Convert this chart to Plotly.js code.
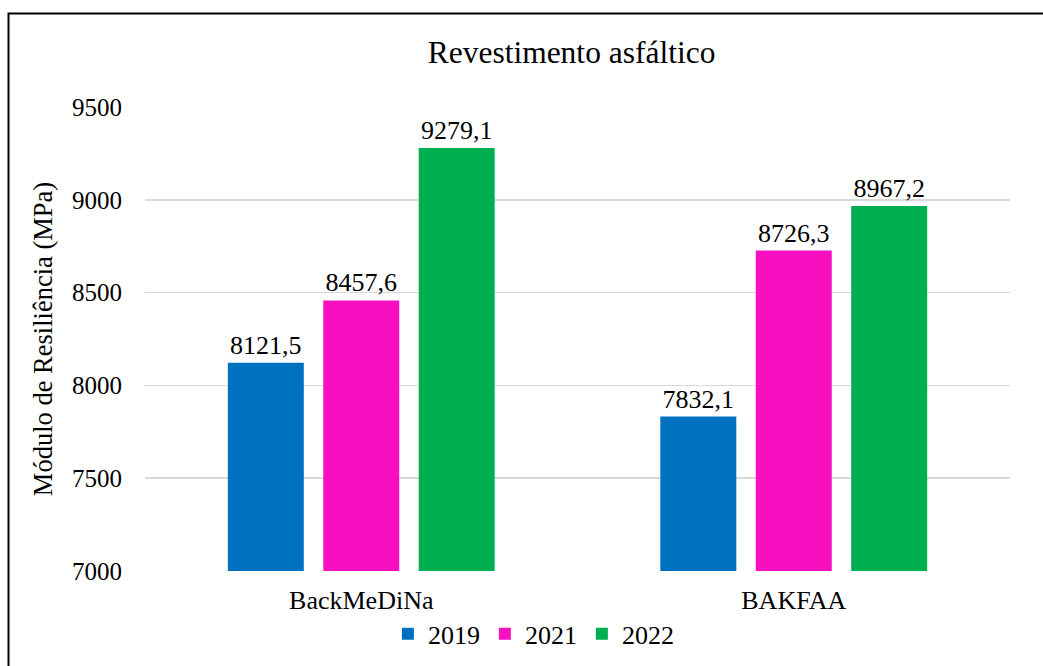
<!DOCTYPE html>
<html>
<head>
<meta charset="utf-8">
<script src="https://cdn.plot.ly/plotly-3.0.1.min.js"></script>
<style>html,body{margin:0;padding:0;background:#fff;}#chart{width:1043px;height:666px;}</style>
</head>
<body>
<div id="chart"></div>
<script>
const categories = ["BackMeDiNa", "BAKFAA"];
const seriesNames = ["2019", "2021", "2022"];
const values2019 = [8121.5, 7832.1];
const values2021 = [8457.6, 8726.3];
const values2022 = [9279.1, 8967.2];
const yTicks = [7000, 7500, 8000, 8500, 9000, 9500];
const colors = ["#0070C0", "#F70FC0", "#00B050"];

const fmt = v => v.toFixed(1).replace('.', ',');
const font = "Liberation Serif";
const allValues = [values2019, values2021, values2022];

const traces = allValues.map((vals, i) => ({
  type: 'bar',
  name: seriesNames[i],
  x: categories,
  y: vals,
  marker: {color: colors[i]},
  text: vals.map(fmt),
  textposition: 'outside',
  cliponaxis: false,
  textfont: {family: font, size: 26, color: '#000'},
  hoverinfo: 'x+y'
}));

const layout = {
  width: 1043, height: 666,
  margin: {l: 145, r: 33, t: 107, b: 95, autoexpand: false},
  paper_bgcolor: '#fff', plot_bgcolor: '#fff',
  font: {family: font, size: 25, color: '#000'},
  title: {text: 'Revestimento asfáltico', font: {family: font, size: 31.5, color: '#000'}, x: 0.548, xanchor: 'center', y: 0.922, yanchor: 'middle'},
  barmode: 'group',
  bargap: 0.338,
  bargroupgap: 0.204,
  showlegend: true,
  legend: {orientation: 'h', x: 0.449, xanchor: 'center', y: -0.085, yanchor: 'top', font: {family: font, size: 26, color: '#000'}, traceorder: 'normal', itemwidth: 30, tracegroupgap: 0},
  xaxis: {type: 'category', automargin: false, showgrid: false, zeroline: false, showline: false, ticks: '', tickfont: {family: font, size: 26, color: '#000'}, ticklabelstandoff: 11},
  yaxis: {
    automargin: false,
    range: [7000, 9500],
    tickvals: yTicks,
    ticktext: yTicks.map(String),
    showgrid: true, gridcolor: '#D9D9D9', gridwidth: 1.5,
    zeroline: false,
    showline: false, ticks: '',
    tickfont: {family: font, size: 25, color: '#000'},
    ticklabelstandoff: 22,
    title: {text: 'Módulo de Resiliência (MPa)', font: {family: font, size: 26.5, color: '#000'}, standoff: 11}
  },
  shapes: [
    {type: 'path', xref: 'paper', yref: 'paper', path: 'M -0.1578 -0.3 L -0.1578 1.2015 L 1.2 1.2015', line: {color: '#000', width: 2}}
  ]
};

Plotly.newPlot('chart', traces, layout, {displayModeBar: false, staticPlot: true});
</script>
</body>
</html>
